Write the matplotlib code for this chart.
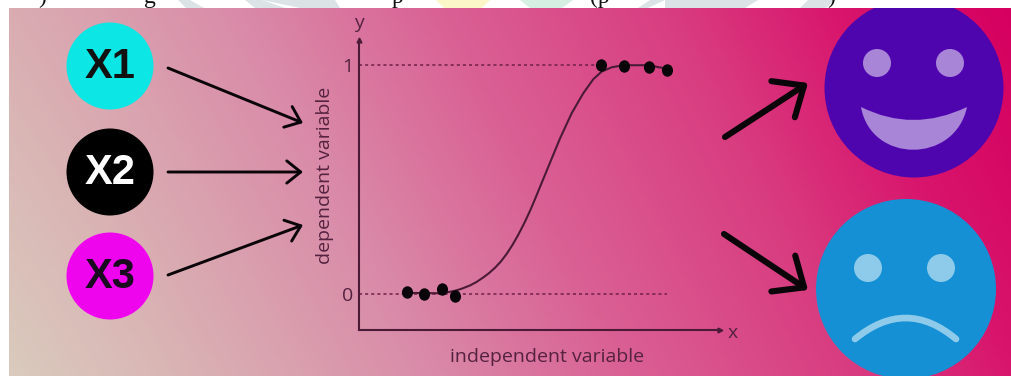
import numpy as np
import matplotlib
matplotlib.use('Agg')
import matplotlib.pyplot as plt
from matplotlib.colors import LinearSegmentedColormap
from matplotlib.markers import MarkerStyle
from matplotlib.patches import Circle, PathPatch, Polygon, Rectangle
from matplotlib.path import Path
from matplotlib.transforms import Affine2D

W, H = 1011, 376

# chart data (x axis runs 0..100 over the arrow length)
sample_x = [13.3, 18.0, 23.0, 26.6, 67.0, 73.4, 80.3, 85.3]
sample_y = [0.01, 0.0, 0.02, -0.01, 1.0, 0.995, 0.99, 0.98]
curve_x = [13.3, 23.0, 26.6, 28.6, 30.7, 32.5, 34.4, 36.0, 37.7, 39.3, 40.9, 42.5, 44.1,
           45.8, 47.4, 48.8, 50.1, 52.9, 55.7, 58.9, 62.1, 64.9, 67.2, 70.0, 73.2, 80.1, 85.2]
curve_y = [0.005, 0.003, 0.014, 0.024, 0.037, 0.052, 0.072, 0.091, 0.115, 0.142, 0.175,
           0.214, 0.258, 0.31, 0.364, 0.416, 0.466, 0.573, 0.68, 0.789, 0.876, 0.938, 0.971,
           0.99, 0.999, 0.999, 0.984]
y_ticks = [0, 1]
y_tick_labels = ['0', '1']
ref_ends = [85.3, 67.0]
inputs = ['X1', 'X2', 'X3']
input_colors = ['#0ce6e4', '#000000', '#ee05ee']
input_text = ['#111111', '#ffffff', '#1a0a20']
input_ys = [66, 172, 276]

ink = '#4a1a36'
label = '#54223f'

fig = plt.figure(figsize=(W / 100, H / 100), dpi=100)
bg = fig.add_axes([0, 0, 1, 1])
bg.axis('off')

# gradient panel
cmap = LinearSegmentedColormap.from_list('bg', [
    (0.0, '#d9cabd'), (0.12, '#dab4b4'), (0.33, '#d98aa8'), (0.5, '#da6094'),
    (0.7, '#d83c80'), (0.85, '#d8146c'), (1.0, '#d60060')])
xx, yy = np.meshgrid(np.linspace(0, 1, 300), np.linspace(0, 1, 120))
grad = np.clip(0.84 * xx ** 1.08 + 0.16 * (1 - yy), 0, 1)
bg.imshow(grad, cmap=cmap, vmin=0, vmax=1, extent=(9, W, H, 8), aspect='auto', zorder=0)
bg.set_xlim(0, W)
bg.set_ylim(H, 0)

# input circles and arrows
for name, c, tc, y in zip(inputs, input_colors, input_text, input_ys):
    bg.add_patch(Circle((110, y), 43.5, fc=c, ec='none', zorder=2))
    bg.text(110, y + 1, name, color=tc, fontsize=30, fontweight='bold', family='Liberation Sans',
            ha='center', va='center', zorder=3)


def arrow(start, end, lw, length, width):
    bg.annotate('', xy=end, xytext=start, zorder=3,
                arrowprops=dict(arrowstyle='->,head_length=%g,head_width=%g' % (length, width),
                                color='#0a0508', lw=lw, shrinkA=0, shrinkB=0))


arrow((168, 68), (303, 123), 2.1, 1.0, 0.8)
arrow((168, 172), (303, 172), 2.1, 1.0, 0.8)
arrow((168, 275), (303, 225), 2.1, 1.0, 0.8)
arrow((725, 137), (808, 83), 4.4, 1.8, 1.55)
arrow((724, 234), (808, 290), 4.4, 1.8, 1.55)

# happy face
bg.add_patch(Circle((914, 88), 89.5, fc='#4f05ae', ec='none', zorder=2))
for ex in (877, 950):
    bg.add_patch(Circle((ex, 63), 14, fc='#a985d8', ec='none', zorder=3))
smile = Path([(861, 107), (913, 133), (967, 107), (955, 164), (871, 164), (861, 107), (861, 107)],
             [Path.MOVETO, Path.CURVE3, Path.CURVE3, Path.CURVE4, Path.CURVE4, Path.CURVE4,
              Path.CLOSEPOLY])
bg.add_patch(PathPatch(smile, fc='#a985d8', ec='none', zorder=3))

# sad face
bg.add_patch(Circle((906, 289), 90, fc='#1590d5', ec='none', zorder=2))
for ex in (868, 941):
    bg.add_patch(Circle((ex, 268), 14, fc='#8ecbea', ec='none', zorder=3))
frown = Path([(855, 339), (906, 297), (956, 339)], [Path.MOVETO, Path.CURVE3, Path.CURVE3])
bg.add_patch(PathPatch(frown, fc='none', ec='#8ecbea', lw=4.8, capstyle='round', zorder=3))

# page strip above the panel, with the cut off line of text and watermark
bg.add_patch(Rectangle((0, 0), W, 8, fc='white', ec='none', zorder=5))
bg.add_patch(Rectangle((0, 0), 9, H, fc='white', ec='none', zorder=5))
for pts, c in [([(178, 0), (190, 0), (204, 8), (186, 8)], '#dbe3e6'),
               ([(245, 0), (262, 0), (285, 8), (255, 8)], '#dbe3e6'),
               ([(262, 0), (335, 0), (340, 8), (300, 8)], '#dbe3e6'),
               ([(436, 0), (490, 0), (482, 8), (444, 8)], '#fcf7c8'),
               ([(520, 0), (573, 0), (562, 8), (530, 8)], '#d6efe3'),
               ([(650, 0), (665, 0), (648, 8), (638, 8)], '#dbe3e6'),
               ([(665, 0), (758, 0), (745, 8), (665, 8)], '#dbe3e6'),
               ([(808, 0), (835, 0), (826, 8), (800, 8)], '#dbe3e6')]:
    bg.add_patch(Polygon(pts, fc=c, ec='none', zorder=6))
for x, s in [(42, ')'), (150, 'g'), (398, 'p'), (600, '(p'), (831, ')')]:
    bg.text(x, 3, s, family='Liberation Serif', fontsize=17, color='#111111',
            ha='center', va='baseline', zorder=7)

# logistic chart
ax = fig.add_axes([359 / W, (H - 330) / H, 361 / W, 290 / H], zorder=2)
ax.patch.set_alpha(0)
ax.set_xlim(0, 100)
ax.set_ylim(-36 / 229, 1 + 25 / 229)
for s in ('top', 'right'):
    ax.spines[s].set_visible(False)
for s in ('left', 'bottom'):
    ax.spines[s].set_color(ink)
    ax.spines[s].set_linewidth(1.5)
ax.set_xticks([])
ax.set_yticks(y_ticks)
ax.set_yticklabels(y_tick_labels, family='Open Sans', fontsize=14, color=label)
ax.tick_params(axis='y', length=0, pad=4)
for v, end in zip(y_ticks, ref_ends):
    ax.plot([0, end], [v, v], color='#702048', lw=1.1, ls=(0, (2, 2)))
ax.plot(curve_x, curve_y, color=ink, lw=1.5, solid_joinstyle='round')
dot = MarkerStyle('o', transform=Affine2D().scale(1.0, 1.12))
ax.plot(sample_x, sample_y, ls='none', marker=dot, color='#0a0508', ms=8, mec='none')
ax.plot(1, 0, '>', color=ink, ms=3.5, transform=ax.transAxes, clip_on=False)
ax.plot(0, 1, '^', color=ink, ms=3.5, transform=ax.transAxes, clip_on=False)
ax.set_xlabel('independent variable', family='Open Sans', fontsize=14, color=label)
ax.xaxis.set_label_coords((547 - 359) / 361, -27 / 290, transform=ax.transAxes)
ax.set_ylabel('dependent variable', family='Open Sans', fontsize=14, color=label)
ax.yaxis.set_label_coords(-34 / 361, 155 / 290, transform=ax.transAxes)
ax.yaxis.label.set_va('center')
ax.xaxis.label.set_va('center')
ax.text(1.036, -0.01, 'x', transform=ax.transAxes, family='Open Sans', fontsize=14, color=label,
        ha='center', va='center')
ax.text(0, 1.06, 'y', transform=ax.transAxes, family='Open Sans', fontsize=14, color=label,
        ha='center', va='center')

fig.savefig('out.png', dpi=100)
